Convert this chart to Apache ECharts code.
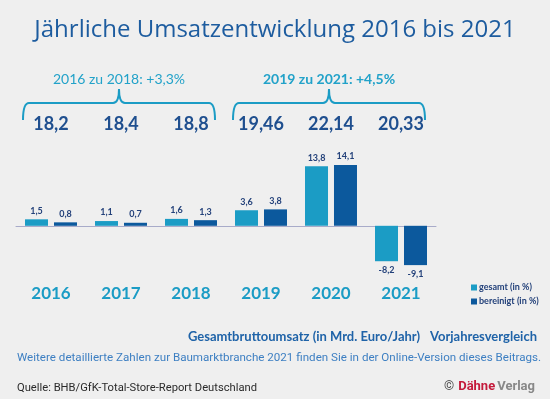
<!DOCTYPE html>
<html>
<head>
<meta charset="utf-8">
<script src="https://cdn.jsdelivr.net/npm/echarts@6/dist/echarts.min.js"></script>
<style>
  html, body { margin: 0; padding: 0; background: #efefef; }
  #chart { width: 550px; height: 399px; }
</style>
</head>
<body>
<div id="chart"></div>
<script>
// Daten
const jahre = ['2016', '2017', '2018', '2019', '2020', '2021']
const umsatz = [18.2, 18.4, 18.8, 19.46, 22.14, 20.33]   // Mrd. Euro
const gesamt = [1.5, 1.1, 1.6, 3.6, 13.8, -8.2]          // in %
const bereinigt = [0.8, 0.7, 1.3, 3.8, 14.1, -9.1]       // in %
const gruppen = [
  { von: 0, bis: 2, text: '2016 zu 2018: +3,3%', bold: false },
  { von: 3, bis: 5, text: '2019 zu 2021: +4,5%', bold: true }
]

const teal = '#1b9cc5'
const navy = '#0c599d'
const dunkel = '#23417a'

const komma = v => String(v).replace('.', ',')

const barData = arr => arr.map(v => ({
  value: v,
  label: { position: v < 0 ? 'bottom' : 'top' }
}))

const myChart = echarts.init(document.getElementById('chart'))

myChart.setOption({
  backgroundColor: '#efefef',
  animation: false,
  title: [
    {
      text: 'Jährliche Umsatzentwicklung 2016 bis 2021',
      left: 'center', top: 13,
      textStyle: { fontFamily: 'Open Sans', fontSize: 24, fontWeight: 'normal', color: '#1d5c9f' }
    },
    {
      text: 'Gesamtbruttoumsatz (in Mrd. Euro/Jahr)',
      right: 125, top: 325,
      textStyle: { fontFamily: 'Lato', fontSize: 13, fontWeight: 'bold', color: '#1f63a8' }
    },
    {
      text: 'Vorjahresvergleich',
      right: 8, top: 325,
      textStyle: { fontFamily: 'Lato', fontSize: 13, fontWeight: 'bold', color: '#1f63a8' }
    },
    {
      text: 'Weitere detaillierte Zahlen zur Baumarktbranche 2021 finden Sie in der Online-Version dieses Beitrags.',
      left: 12, top: 347,
      textStyle: { fontFamily: 'Roboto', fontSize: 11.6, fontWeight: 'normal', color: '#3d7fc2' }
    },
    {
      text: 'Quelle: BHB/GfK-Total-Store-Report Deutschland',
      left: 12, top: 378,
      textStyle: { fontFamily: 'Roboto', fontSize: 11.2, fontWeight: 'normal', color: '#2b2b2b' }
    },
    {
      text: '{c|©}{d|Dähne}{v|Verlag}',
      right: 10, top: 375,
      textStyle: {
        rich: {
          c: { fontFamily: 'Roboto', fontSize: 13, color: '#555', padding: [0, 4, 0, 0] },
          d: { fontFamily: 'Roboto', fontSize: 13, fontWeight: 'bold', color: '#c41a3b' },
          v: { fontFamily: 'Roboto', fontSize: 13, color: '#888', padding: [0, 0, 0, 2] }
        }
      }
    }
  ],
  legend: {
    orient: 'vertical',
    left: 466, top: 278,
    icon: 'rect',
    itemWidth: 6, itemHeight: 6, itemGap: 5,
    textStyle: { fontFamily: 'Lato', fontSize: 9, fontWeight: 'bold', color: dunkel, padding: [0, 0, 0, -3] },
    data: ['gesamt (in %)', 'bereinigt (in %)']
  },
  grid: { left: 16, width: 420, top: 161, height: 108 },
  xAxis: [
    {
      type: 'category',
      data: jahre,
      axisLine: { onZero: true, lineStyle: { color: '#a8abc9', width: 1 } },
      axisTick: { show: false },
      axisLabel: { margin: 16, fontFamily: 'Lato', fontSize: 17, fontWeight: 'bold', color: teal }
    },
    {
      type: 'category',
      position: 'top',
      data: umsatz,
      axisLine: { show: false, onZero: false },
      axisTick: { show: false },
      axisLabel: {
        margin: 28, fontFamily: 'Lato', fontSize: 18, fontWeight: 'bold', color: '#1f4f8f',
        formatter: komma
      }
    }
  ],
  yAxis: {
    type: 'value', min: -10, max: 15, interval: 5,
    show: false, splitLine: { show: false }
  },
  series: [
    {
      name: 'gesamt (in %)',
      type: 'bar',
      data: barData(gesamt),
      barWidth: 23,
      barGap: '26%',
      itemStyle: { color: teal },
      label: { show: true, distance: 4, fontFamily: 'Lato', fontSize: 9, fontWeight: 'bold', color: dunkel, formatter: p => komma(p.value) }
    },
    {
      name: 'bereinigt (in %)',
      type: 'bar',
      data: barData(bereinigt),
      barWidth: 23,
      itemStyle: { color: navy },
      label: { show: true, distance: 4, fontFamily: 'Lato', fontSize: 9, fontWeight: 'bold', color: dunkel, formatter: p => komma(p.value) }
    }
  ]
})

// geschweifte Klammern und Gruppentexte
const px = i => myChart.convertToPixel({ xAxisIndex: 0 }, jahre[i])
const graphic = []
const strich = { fill: null, stroke: teal, lineWidth: 2 }
const kurve = (x1, y1, cx, cy, x2, y2) => ({
  type: 'bezierCurve', shape: { x1, y1, x2, y2, cpx1: cx, cpy1: cy }, style: strich
})
const linie = (x1, y1, x2, y2) => ({
  type: 'line', shape: { x1, y1, x2, y2 }, style: strich
})
gruppen.forEach(g => {
  const L = px(g.von) - 28
  const R = px(g.bis) + 24
  const C = (L + R) / 2
  const yTop = 103, yEnd = 120, ySpitze = 89
  graphic.push(
    kurve(L, yEnd, L, yTop, L + 6, yTop),
    linie(L + 6, yTop, C - 6, yTop),
    kurve(C - 6, yTop, C, yTop, C, ySpitze),
    kurve(C, ySpitze, C, yTop, C + 6, yTop),
    linie(C + 6, yTop, R - 6, yTop),
    kurve(R - 6, yTop, R, yTop, R, yEnd)
  )
  graphic.push({
    type: 'text',
    x: C, y: 79,
    style: {
      text: g.text, align: 'center', verticalAlign: 'middle',
      font: `${g.bold ? 'bold ' : ''}14px Lato`, fill: '#22a2c9'
    }
  })
})
myChart.setOption({ graphic })
</script>
</body>
</html>
